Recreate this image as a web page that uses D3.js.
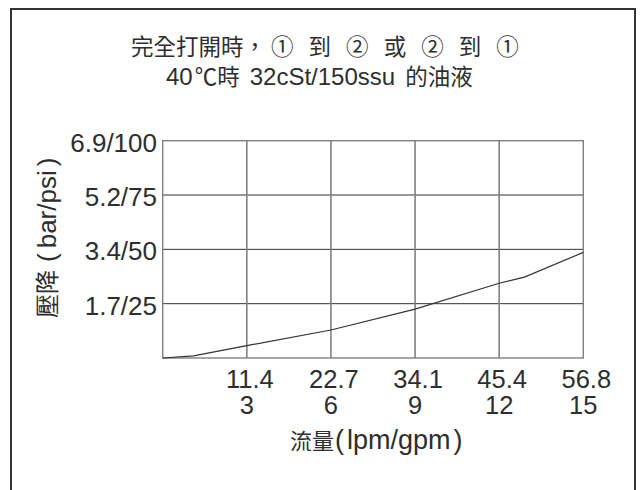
<!DOCTYPE html>
<html>
<head>
<meta charset="utf-8">
<script src="https://d3js.org/d3.v7.min.js"></script>
<style>
  body { margin: 0; background: #fff; }
  svg { display: block; }
  text { fill: #2e2e2e; }
</style>
</head>
<body>
<svg width="641" height="490"></svg>
<script>
// flow in gpm, pressure drop in psi
var flowGpm = [0, 1.1, 3, 6, 9, 12, 12.9, 15];
var dropPsi = [0, 1.0, 5.7, 12.9, 22.5, 34.4, 37.2, 48.6];

var xTicks = [3, 6, 9, 12, 15];
var xLpmLabels = ["11.4", "22.7", "34.1", "45.4", "56.8"];
var yTicks = [25, 50, 75, 100];
var yLabels = ["1.7/25", "3.4/50", "5.2/75", "6.9/100"];

var LAT = "'Liberation Sans', Arial, Helvetica, sans-serif";
var CJK = "'Noto Sans CJK TC', 'Noto Sans CJK SC', sans-serif";

var svg = d3.select("svg");

// outer frame (bottom edge runs off the page)
svg.append("path")
    .attr("d", "M11,492 V9 H635 V492")
    .attr("fill", "none")
    .attr("stroke", "#333")
    .attr("stroke-width", 2);

var x = d3.scaleLinear().domain([0, 15]).range([162.7, 583.3]);
var y = d3.scaleLinear().domain([0, 100]).range([358, 140.7]);

// grid
svg.selectAll(".hgrid")
    .data(yTicks.slice(0, 3))
    .enter().append("line")
    .attr("x1", x(0)).attr("x2", x(15))
    .attr("y1", function(d) { return y(d); })
    .attr("y2", function(d) { return y(d); })
    .attr("stroke", "#333")
    .attr("stroke-width", 1);

svg.selectAll(".vgrid")
    .data(xTicks.slice(0, 4))
    .enter().append("line")
    .attr("y1", y(0)).attr("y2", y(100))
    .attr("x1", function(d) { return x(d); })
    .attr("x2", function(d) { return x(d); })
    .attr("stroke", "#808080")
    .attr("stroke-width", 1.6);

svg.append("rect")
    .attr("x", x(0)).attr("y", y(100))
    .attr("width", x(15) - x(0))
    .attr("height", y(0) - y(100))
    .attr("fill", "none")
    .attr("stroke", "#808080")
    .attr("stroke-width", 1.4);

// curve
var pts = flowGpm.map(function(f, i) { return [f, dropPsi[i]]; });
svg.append("path")
    .datum(pts)
    .attr("fill", "none")
    .attr("stroke", "#333")
    .attr("stroke-width", 1.2)
    .attr("d", d3.line()
        .x(function(d) { return x(d[0]); })
        .y(function(d) { return y(d[1]); }));

// y tick labels
svg.selectAll(".ylab")
    .data(yTicks)
    .enter().append("text")
    .attr("x", 157)
    .attr("y", function(d) { return y(d); })
    .attr("dy", "0.42em")
    .attr("text-anchor", "end")
    .style("font-family", LAT)
    .style("font-size", "26px")
    .text(function(d, i) { return yLabels[i]; });

// x tick labels, two lines
svg.selectAll(".xlab1")
    .data(xTicks)
    .enter().append("text")
    .attr("x", function(d) { return x(d) + 3; })
    .attr("y", 388)
    .attr("text-anchor", "middle")
    .style("font-family", LAT)
    .style("font-size", "25.5px")
    .text(function(d, i) { return xLpmLabels[i]; });

svg.selectAll(".xlab2")
    .data(xTicks)
    .enter().append("text")
    .attr("x", function(d) { return x(d); })
    .attr("y", 414)
    .attr("text-anchor", "middle")
    .style("font-family", LAT)
    .style("font-size", "25.5px")
    .text(function(d) { return d; });

// x axis title
var xt = svg.append("text").attr("x", 290).attr("y", 449);
xt.append("tspan").style("font-family", CJK).style("font-size", "22px").text("流量");
xt.append("tspan").style("font-family", LAT).style("font-size", "27px").attr("dx", 1).text("(");
xt.append("tspan").style("font-family", LAT).style("font-size", "27px").attr("dx", 3).text("lpm/gpm");
xt.append("tspan").style("font-family", LAT).style("font-size", "27px").attr("dx", 3).text(")");

// y axis title
var yt = svg.append("text")
    .attr("transform", "translate(56,318) rotate(-90)");
yt.append("tspan").style("font-family", CJK).style("font-size", "24px").text("壓降");
yt.append("tspan").style("font-family", LAT).style("font-size", "26px").attr("dx", 8).text("(");
yt.append("tspan").style("font-family", LAT).style("font-size", "26px").attr("dx", 5).text("bar/psi");
yt.append("tspan").style("font-family", LAT).style("font-size", "26px").attr("dx", 4).text(")");

// titles
var t1 = svg.append("text").attr("x", 131).attr("y", 55)
    .style("font-family", CJK).style("font-size", "22.5px");
t1.append("tspan").text("完全打開時，");
t1.append("tspan").attr("dx", 5).style("word-spacing", "10px").text("① 到 ② 或 ② 到 ①");

var t2 = svg.append("text").attr("x", 166).attr("y", 85);
t2.append("tspan").style("font-family", LAT).style("font-size", "24px").text("40");
t2.append("tspan").style("font-family", CJK).style("font-size", "22.5px").attr("dx", 2).text("℃時");
t2.append("tspan").style("font-family", LAT).style("font-size", "24px").attr("dx", 10).text("32cSt/150ssu");
t2.append("tspan").style("font-family", CJK).style("font-size", "22.5px").attr("dx", 10).text("的油液");
</script>
</body>
</html>
